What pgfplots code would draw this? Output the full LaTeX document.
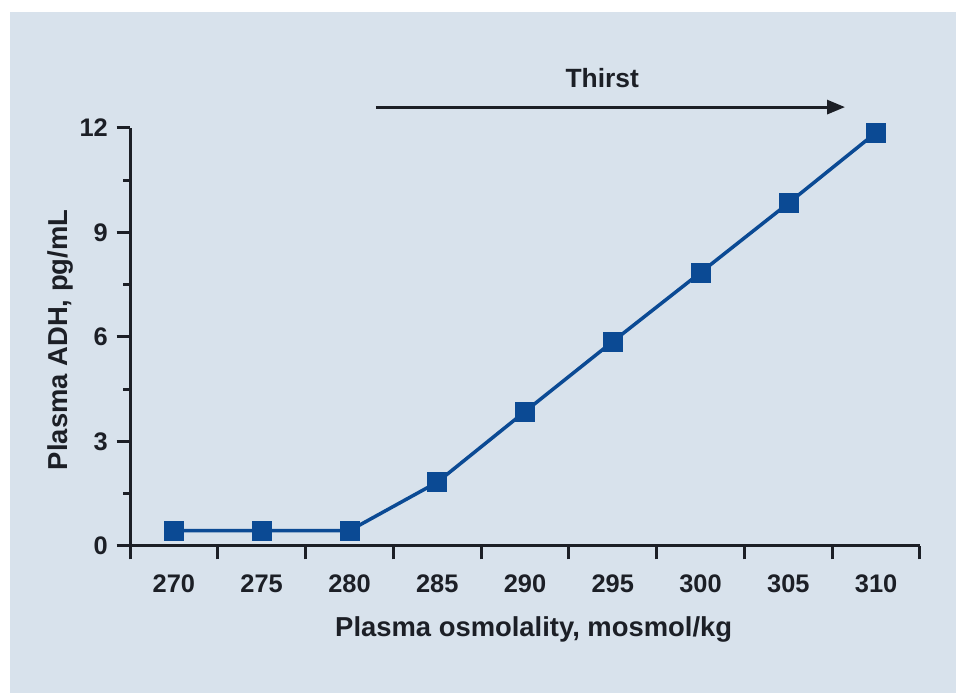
\documentclass[border=0pt]{standalone}
\usepackage{fontspec}
\setmainfont{Liberation Sans}
\usepackage{pgfplots}
\pgfplotsset{compat=1.18}
\usetikzlibrary{arrows.meta,backgrounds}
\definecolor{bgpanel}{HTML}{D8E2EC}
\definecolor{lineblue}{HTML}{0B4A94}
\definecolor{txt}{HTML}{1C1F26}
\begin{document}
\fontsize{25.5}{30}\selectfont\bfseries
\begin{tikzpicture}[x=1bp,y=1bp]
\begin{axis}[
  scale only axis,
  width=790bp, height=418bp,
  xmin=267.5, xmax=312.5,
  ymin=0, ymax=12,
  axis x line=bottom, axis y line=left,
  axis line style={-, line width=3bp, color=txt},
  tick style={line width=3bp, color=txt},
  minor tick style={line width=3bp, color=txt},
  major tick style={line width=3bp, color=txt},
  tick align=outside,
  xtick={267.5,272.5,...,312.5},
  xticklabels={270,275,280,285,290,295,300,305,310,{}},
  ytick={0,3,6,9,12},
  yticklabels={0,3,6,9,12},
  minor ytick={1.5,4.5,7.5,10.5},
  major tick length=13.5bp, minor tick length=7bp,
  xticklabel style={xshift=43.9bp, yshift=-6.5bp, text=txt},
  yticklabel style={text=txt},
  xlabel={Plasma osmolality, mosmol/kg},
  ylabel={Plasma ADH, pg/mL},
  xlabel style={at={(axis description cs:0.511,-0.2177)}, anchor=base, text=txt, font=\fontsize{27.5}{32}\selectfont\bfseries},
  ylabel style={at={(axis description cs:-0.0797,0.493)}, anchor=base, text=txt, font=\fontsize{27.5}{32}\selectfont\bfseries},
  clip=false,
]
\addplot[color=lineblue, line width=3.5bp, mark=square*, mark size=9.5bp, mark options={fill=lineblue, draw=lineblue, line width=0.5bp}]
coordinates {
(270,0.44) (275,0.44) (280,0.44) (285,1.83) (290,3.86) (295,5.87) (300,7.85) (305,9.84) (310,11.87)
};
\draw[color=txt, line width=3bp, -{Triangle[length=18bp,width=14bp]}] (axis cs:281.5,12.6) -- (axis cs:308.23,12.6);
\node[anchor=base, text=txt, font=\fontsize{26.5}{31}\selectfont\bfseries] at (axis cs:294.4,13.15) {Thirst};
\coordinate (panelBL) at (rel axis cs:-0.1519,-0.3517);
\coordinate (panelTR) at (rel axis cs:1.0456,1.2775);
\coordinate (pageTL) at (rel axis cs:-0.16456,1.30622);
\end{axis}
\begin{scope}[on background layer]
\fill[white] (pageTL) rectangle (panelBL -| panelTR);
\fill[bgpanel] (panelBL) rectangle (panelTR);
\end{scope}
\pgfresetboundingbox
\path[use as bounding box] (pageTL) rectangle (panelBL -| panelTR);
\end{tikzpicture}
\end{document}
